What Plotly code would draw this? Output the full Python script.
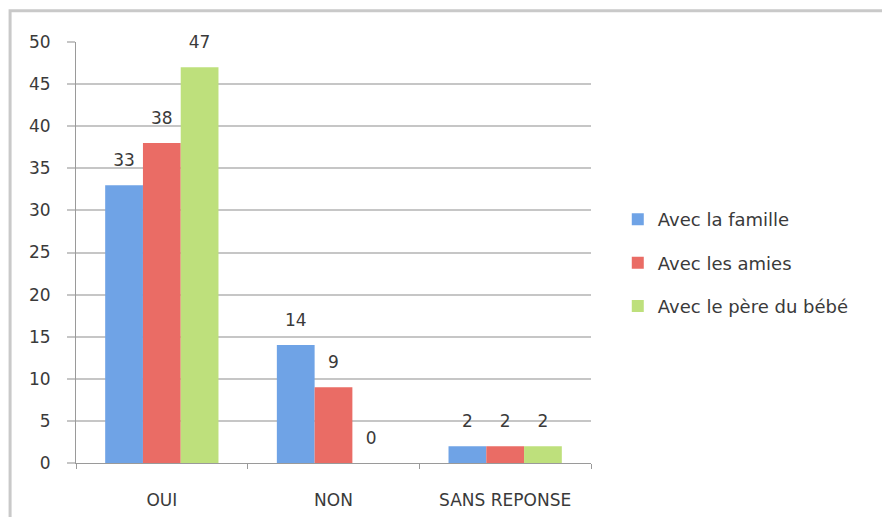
import plotly.graph_objects as go

categories = ["OUI", "NON", "SANS REPONSE"]
famille = [33, 14, 2]
amies = [38, 9, 2]
pere = [47, 0, 2]

series_names = ["Avec la famille", "Avec les amies", "Avec le père du bébé"]
COLORS = ["#6FA3E6", "#EA6C65", "#BEE07C"]
FONT = "DejaVu Sans"
TEXT_COLOR = "#3a3a3a"
GRID = "#c6c6c6"
GAP = 0.34

fig = go.Figure()
for i, (name, vals) in enumerate(zip(series_names, [famille, amies, pere])):
    fig.add_trace(go.Bar(
        name=name,
        x=categories,
        y=vals,
        marker=dict(color=COLORS[i], line=dict(width=0)),
        legendgroup=f"g{i}",
    ))

# value labels, lifted above the bars like in the original
for i, vals in enumerate([famille, amies, pere]):
    fig.add_trace(go.Scatter(
        x=categories,
        y=vals,
        mode="markers+text",
        text=[str(v) for v in vals],
        textposition="top center",
        marker=dict(size=22, opacity=0),
        textfont=dict(family=FONT, size=17, color=TEXT_COLOR),
        cliponaxis=False,
        showlegend=False,
        hoverinfo="skip",
    ))

fig.update_layout(
    barmode="group",
    bargap=GAP,
    bargroupgap=0,
    scattermode="group",
    scattergap=GAP,
    width=890,
    height=517,
    margin=dict(l=68, r=307, t=34, b=62),
    plot_bgcolor="white",
    paper_bgcolor="white",
    font=dict(family=FONT, size=17, color=TEXT_COLOR),
    legend=dict(
        x=1.052, xanchor="left",
        y=0.475, yanchor="middle",
        tracegroupgap=17,
        font=dict(family=FONT, size=18, color=TEXT_COLOR),
        itemwidth=30,
    ),
    shapes=[dict(
        type="rect", xref="paper", yref="paper",
        x0=-0.128, x1=1.7, y0=-0.3, y1=1.074,
        line=dict(color="#c9c9c9", width=3),
    )],
)

fig.update_yaxes(
    range=[0, 50],
    dtick=5,
    showgrid=True,
    gridcolor=GRID,
    gridwidth=2,
    showline=True,
    linecolor="#9a9a9a",
    linewidth=1,
    ticks="outside",
    ticklen=8,
    tickwidth=2,
    tickcolor=GRID,
    ticklabelstandoff=13,
    zeroline=False,
)
fig.update_xaxes(
    showline=True,
    linecolor="#9a9a9a",
    linewidth=1,
    ticks="outside",
    tickson="boundaries",
    ticklen=5,
    tickcolor="#9a9a9a",
    ticklabelstandoff=22,
)

fig.write_html("out.html")
